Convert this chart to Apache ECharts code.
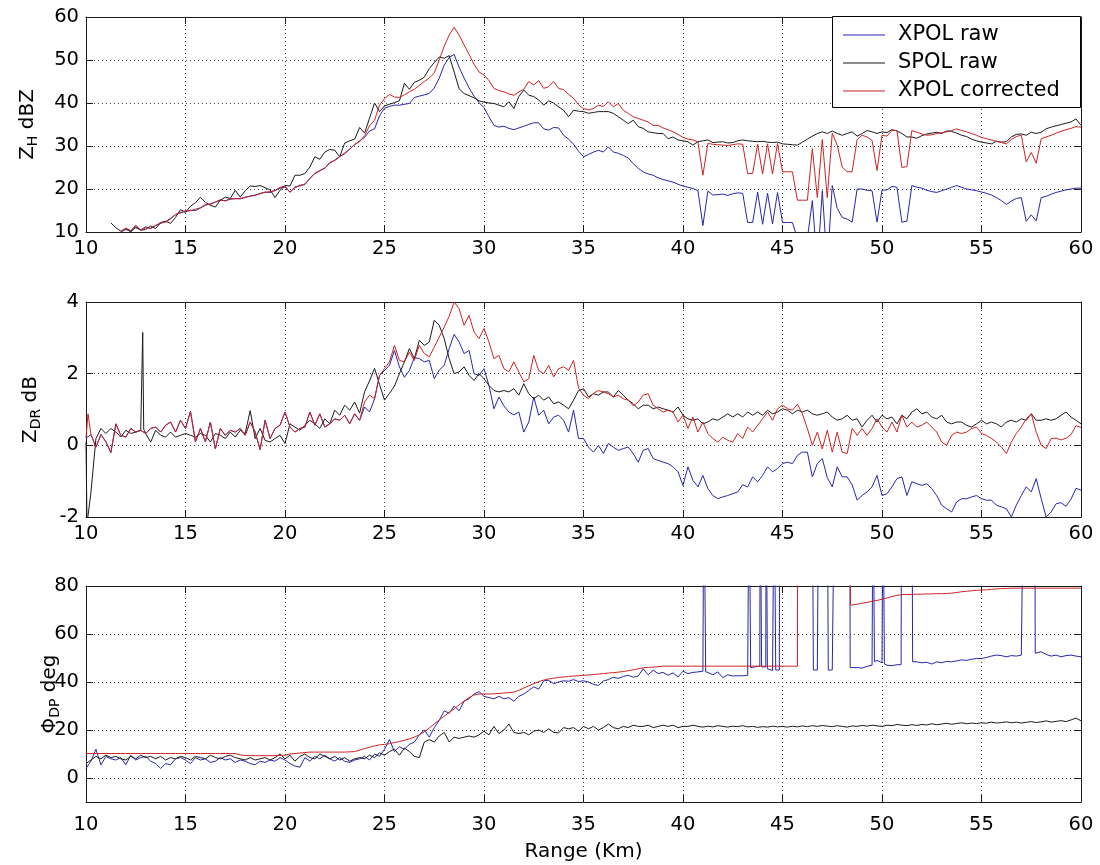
<!DOCTYPE html>
<html><head><meta charset="utf-8">
<script src="https://cdn.jsdelivr.net/npm/echarts@6/dist/echarts.min.js"></script>
<style>html,body{margin:0;padding:0;background:#fff}#c{width:1100px;height:865px}</style>
</head><body><div id="c"></div>
<script>
// ---------------- DATA ----------------
// Range gates: 10 km to 60 km every 0.25 km (201 gates)
const gates = [];
for (let i = 0; i <= 200; i++) gates.push(10 + i * 0.25);

const seriesNames = ['XPOL raw', 'SPOL raw', 'XPOL corrected'];
const xTicks = [10, 15, 20, 25, 30, 35, 40, 45, 50, 55, 60];

// ---- Z_H (dBZ) ----
const zhXpolRaw = [
  null,null,null,null,null,null,null,10.0,10.6,10.2,11.0,10.5,11.2,10.8,11.5,12.0,12.4,13.2,14.0,14.6,
  14.7,15.1,15.0,15.6,16.2,16.6,16.9,17.4,17.3,17.6,17.8,17.7,18.1,18.3,18.6,18.9,19.3,19.2,19.7,20.2,
  20.5,19.3,20.3,20.9,21.0,22.5,23.6,24.2,24.9,26.0,26.7,27.6,28.2,29.3,30.3,31.2,32.0,33.5,34.0,37.0,
  38.8,39.2,39.5,39.5,39.7,39.9,41.3,41.6,41.9,42.2,43.5,45.8,48.8,50.6,51.3,48.3,45.8,43.5,41.6,40.1,
  38.9,36.8,34.8,34.4,34.6,34.1,33.8,34.2,34.6,35.0,35.4,35.4,34.0,33.7,34.3,34.2,32.5,31.6,30.4,28.8,
  27.5,28.0,28.6,29.0,28.6,29.8,28.6,28.3,27.8,27.2,25.9,24.8,24.0,23.5,23.2,22.6,22.2,21.9,21.6,21.1,
  20.7,20.4,20.1,19.6,11.5,19.5,18.6,18.7,18.8,18.5,18.9,19.1,19.0,12.2,12.2,19.3,11.8,19.0,11.9,19.2,
  12.2,12.2,12.2,8.5,8.5,8.5,17.3,2,19.6,2,20.8,15.5,13.4,13.0,12.3,20.0,20.0,19.7,19.6,12.3,
  19.7,19.8,20.6,20.4,12.3,12.5,20.8,20.4,20.2,19.7,19.4,19.2,19.6,20.0,20.4,20.8,20.4,20.0,19.8,19.6,
  19.3,19.0,18.6,18.0,17.3,16.4,17.2,17.8,18.0,12.5,14.0,12.6,18.0,18.3,18.8,19.2,19.5,19.8,20.0,20.2,
  20.2
];
const zhSpol = [
  null,null,null,null,null,12.1,11.0,10.2,10.8,10.0,11.3,10.4,10.6,11.4,10.8,12.2,12.5,12.0,13.4,15.2,
  14.6,16.0,16.8,18.1,16.9,16.2,15.8,17.4,18.1,17.8,19.7,18.1,19.6,20.7,20.6,20.8,20.3,19.8,18.0,19.7,
  20.8,20.7,23.2,23.2,23.6,25.1,27.5,26.9,28.6,29.2,29.0,27.5,30.7,31.2,31.6,34.3,33.0,36.5,40.0,38.0,
  39.3,39.7,40.1,40.5,44.6,43.2,44.8,45.3,46.0,48.0,49.4,50.7,50.4,51.0,47.2,43.3,42.2,41.7,41.2,40.5,
  40.2,40.0,39.9,39.5,39.1,40.3,38.7,41.5,43.0,41.8,41.5,40.7,39.5,40.5,40.0,39.1,38.3,36.8,38.3,38.1,
  38.0,37.6,37.8,38.0,38.0,38.0,37.6,36.8,36.0,35.2,36.0,34.5,34.1,33.3,33.1,32.9,32.9,31.7,32.1,31.4,
  31.2,31.0,30.2,31.0,31.2,31.4,30.8,30.9,31.0,30.7,30.8,31.2,31.4,31.2,31.1,31.0,31.1,30.9,30.8,30.9,
  30.5,30.4,30.3,30.2,30.9,31.6,32.3,32.9,33.3,32.9,33.5,32.9,32.5,32.9,33.3,32.3,32.9,33.6,33.3,32.9,
  33.3,33.1,33.8,33.5,32.9,32.1,32.1,31.8,32.4,32.8,33.0,33.2,32.9,33.5,33.4,33.0,32.5,32.2,31.6,31.2,
  30.9,30.7,30.5,31.1,30.9,31.0,32.1,32.7,32.8,32.5,33.2,32.9,33.2,34.0,34.4,34.7,35.0,35.3,35.6,36.3,
  34.8
];
const zhXpolCorr = [
  null,null,null,null,null,null,null,10.0,10.9,10.3,11.6,10.4,11.0,10.9,11.5,12.2,12.3,13.0,14.1,14.4,
  15.0,14.9,15.3,15.6,16.4,16.4,17.0,17.5,17.2,17.8,17.7,17.8,18.0,18.4,18.5,19.0,19.2,19.4,19.6,20.4,
  20.7,19.2,20.5,20.7,21.2,22.4,23.7,24.3,24.8,26.2,26.6,27.5,28.4,29.2,30.4,31.0,32.4,34.7,36.0,39.5,
  41.0,42.0,41.4,41.3,41.9,42.6,43.2,44.1,45.0,45.8,47.0,50.0,53.2,55.8,57.6,55.8,53.5,51.3,49.0,47.2,
  46.5,45.2,43.4,42.9,42.6,42.1,41.8,42.6,43.2,45.0,44.2,45.2,43.4,43.8,45.0,43.4,43.1,42.0,41.1,39.6,
  38.7,38.4,38.7,39.5,39.2,40.3,39.1,39.9,38.3,37.6,36.8,36.4,36.0,35.6,34.8,34.8,34.2,33.8,33.3,32.7,
  32.0,31.6,31.4,31.0,23.2,30.6,30.4,30.3,30.2,30.1,30.3,30.5,30.4,23.6,23.6,30.4,23.5,30.5,23.5,30.6,
  24.0,24.0,24.0,17.4,17.4,17.4,29.4,18.0,31.5,18.0,33.0,30.2,25.1,24.0,24.0,31.5,32.5,32.1,31.3,24.3,
  32.5,32.3,33.6,33.6,25.0,25.2,33.6,33.2,32.8,32.5,32.6,32.9,33.1,33.3,33.6,34.0,33.6,33.3,32.9,32.5,
  32.0,31.7,31.4,31.1,30.8,30.5,31.5,32.2,32.5,26.3,28.5,26.0,31.7,32.1,32.5,33.0,33.4,33.8,34.1,34.5,
  34.4
];

// ---- Z_DR (dB) ----
const zdrXpolNear = [ // 10 .. 23.75 km, raw and corrected XPOL coincide here
  0.2,0.3,-0.05,0.3,0.1,-0.2,0.6,0.28,0.23,0.47,0.37,0.42,0.33,0.47,0.51,0.37,0.56,0.65,0.37,0.7,
  0.47,0.95,0.1,0.47,0.1,0.65,-0.1,0.47,0.28,0.42,0.37,0.47,0.28,0.65,0.37,-0.12,0.7,0.19,0.47,0.56,
  0.93,0.51,0.37,0.47,0.51,0.93,0.56,0.88,0.51,0.6,0.74,0.7,0.84,0.6,0.88,0.7
];
const zdrXpolRawFar = [ // 24 .. 60 km
  1.07,0.93,1.3,1.95,
  2.09,2.23,2.65,2.19,1.9,2.09,2.45,2.42,2.33,2.37,1.86,2.1,2.23,2.7,3.1,2.88,2.56,2.65,2.0,1.95,
  2.14,1.67,1.02,1.35,1.1,0.93,0.85,0.93,0.37,0.65,1.35,0.84,0.98,0.6,0.79,0.84,0.7,0.37,0.98,0.19,
  0.19,-0.05,-0.19,0.0,-0.23,0.05,-0.05,-0.14,-0.09,-0.05,-0.23,-0.47,-0.14,-0.09,-0.37,-0.42,-0.47,-0.51,-0.6,-0.74,
  -1.12,-0.6,-0.98,-1.16,-0.84,-1.21,-1.4,-1.49,-1.44,-1.4,-1.35,-1.3,-1.1,-1.16,-0.88,-1.02,-0.84,-0.6,-0.74,-0.65,
  -0.51,-0.47,-0.51,-0.28,-0.19,-0.19,-0.88,-0.51,-0.37,-0.9,-1.16,-0.6,-0.88,-0.88,-1.1,-1.53,-1.4,-1.3,-1.16,-0.84,
  -1.4,-1.35,-1.16,-0.93,-0.88,-1.4,-1.02,-1.07,-1.12,-1.07,-1.21,-1.4,-1.67,-1.77,-1.86,-1.58,-1.49,-1.49,-1.44,-1.4,
  -1.49,-1.53,-1.53,-1.67,-1.72,-1.77,-2.0,-1.67,-1.4,-1.16,-1.3,-0.93,-1.49,-2.0,-1.86,-1.63,-1.6,-1.7,-1.5,-1.2,
  -1.25
];
const zdrXpolCorrFar = [ // 24 .. 60 km
  1.21,1.4,1.3,1.95,
  2.14,2.33,2.79,2.37,2.33,2.6,2.37,2.79,2.56,2.47,2.74,3.02,3.3,3.6,4.0,3.81,3.35,3.63,3.16,2.98,
  3.26,2.88,2.42,2.51,2.14,2.05,2.33,2.05,1.77,1.86,2.51,2.09,2.0,2.23,1.91,2.14,2.19,2.09,2.37,1.6,
  1.4,1.3,1.45,1.53,1.49,1.44,1.35,1.4,1.3,1.26,1.1,1.21,1.4,1.44,1.12,1.02,0.93,0.98,0.93,0.65,
  0.84,0.47,0.79,0.37,0.65,0.33,0.19,0.09,0.23,0.14,0.09,0.33,0.19,0.51,0.37,0.56,0.74,0.93,0.7,1.02,
  1.12,1.02,0.98,1.15,0.88,0.47,0.0,0.37,-0.1,0.42,-0.19,0.37,-0.19,-0.23,0.47,0.28,0.47,0.28,0.47,0.74,
  0.51,0.37,0.65,0.37,0.84,0.51,0.65,0.51,0.56,0.65,0.51,0.37,0.09,0.0,0.28,0.37,0.33,0.37,0.47,0.51,
  0.33,0.28,0.19,0.09,-0.05,-0.23,0.09,0.33,0.51,0.74,0.88,0.37,0.0,-0.09,0.19,0.2,0.15,0.2,0.3,0.55,
  0.5
];
const zdrSpol = [
  0.1,-1.3,0.19,0.47,0.33,0.47,0.37,0.23,0.42,0.33,0.37,0.42,0.33,0.09,0.42,0.28,0.23,0.37,0.23,0.28,
  0.33,0.28,0.23,0.33,0.28,0.09,0.33,0.28,0.19,0.37,0.23,0.42,0.33,0.97,0.19,0.47,0.14,0.09,0.19,0.28,
  0.05,0.6,0.51,0.42,0.56,0.7,0.6,0.47,0.74,0.6,0.98,0.84,1.12,0.98,1.21,0.9,1.5,1.8,2.15,1.7,
  1.26,1.45,1.65,2.0,2.33,2.7,2.42,2.93,2.79,2.88,3.49,3.35,2.98,2.42,2.0,2.05,2.19,1.95,1.81,2.0,
  1.86,1.67,1.53,1.49,1.53,1.49,1.58,1.4,1.72,1.44,1.3,1.4,1.26,1.35,1.16,1.21,1.12,1.02,1.26,1.53,
  1.58,1.35,1.44,1.4,1.49,1.49,1.35,1.53,1.4,1.26,1.16,1.02,1.12,1.12,1.02,1.07,1.02,0.98,0.93,1.07,
  0.84,0.74,0.7,0.74,0.6,0.65,0.74,0.7,0.79,0.88,0.79,0.88,0.79,0.93,0.84,0.93,0.84,0.98,0.88,0.93,
  1.02,0.98,0.88,0.98,0.93,0.98,0.88,0.84,0.88,0.93,0.79,0.7,0.74,0.84,0.7,0.74,0.51,0.7,0.84,0.65,
  0.84,0.74,0.79,0.6,0.84,0.74,0.93,1.02,0.88,0.93,0.79,0.74,0.84,0.65,0.6,0.65,0.65,0.56,0.51,0.6,
  0.7,0.6,0.65,0.6,0.51,0.65,0.7,0.65,0.74,0.7,0.88,0.7,0.7,0.74,0.7,0.74,0.84,0.93,0.79,0.7,
  0.6
];
// narrow features between gates: [range km, value]
const zdrSpolSpikes = [[10.05,-2.2],[10.15,-2.2],[12.8,0.42],[12.85,3.15],[12.9,0.45]];
const zdrCorrSpikes = [[10.1,0.88]];

// ---- PHI_DP (deg) ----  (values above 80 are off the top of the axes)
const phiXpolRaw = [
  4,7,12,5.5,9,8,7.5,8.5,5.5,9.5,7.5,8.5,9,7,6,4,6,5.5,8,8.5,
  7.5,6,8.5,7.5,8,6.5,7,8.5,7.5,8,6.5,7.5,7,6,5.5,7,6.5,7.5,7,8.5,
  7.5,6,5,4.5,8.5,7,9,8,9.5,8,7,8.5,7,6.5,7.5,8,9,7.5,10,9,
  12,16,11,13,12,14,15,18,20,17,21,24,28,27,30,28,32,33,35,36,
  34,33.5,33,34,33,33.5,32,34,35,36.5,38,37,40.5,40.7,39.3,40.0,40.5,40.3,41.0,40.2,
  40.5,40.0,39.0,38.6,40.4,41.0,42.0,41.5,42.3,42.8,42.0,42.5,45.5,43.0,44.9,43.5,44.0,42.8,43.8,42.1,
  44.5,43.5,44.0,44.2,44.5,44.0,43.0,44.2,41.8,43.0,42.5,42.6,42.6,42.8,46.0,46.5,46.3,45.5,44.8,45.0,
  130,130,130,130,130,130,130,45,130,130,45,130,130,130,46.3,46.0,45.8,46.5,47.0,49.0,
  48.0,47.0,46.8,47.2,130,130,130,48.4,48.0,48.2,47.5,48.4,48.0,48.6,48.4,48.8,49.2,49.0,49.5,49.8,
  49.8,50.2,50.8,51.2,51.0,50.5,51.0,50.8,51.2,130,130,52.0,52.6,51.5,50.8,51.2,50.5,51.0,51.2,50.8,
  50.5
];
const phiRawSpikes = [
  [41.03,44.4],[41.05,130],[41.12,130],[41.14,44.2],
  [43.3,42.8],[43.32,130],[43.38,130],[43.4,46.0],
  [43.86,46.5],[43.88,130],[43.93,130],[43.95,46.3],
  [44.16,46.3],[44.18,130],[44.22,130],[44.24,45.5],
  [44.56,44.8],[44.58,130],[44.64,130],[44.66,45.0],
  [44.84,45.0],[44.86,130],
  [46.53,130],[46.55,45],[46.8,45],[46.82,130],
  [47.28,130],[47.3,45],[47.6,45],[47.62,130],
  [48.38,130],[48.4,46.0],
  [49.53,47.0],[49.55,130],[49.6,130],[49.62,48.5],
  [50.03,48.0],[50.05,130],[50.1,130],[50.12,47.5],
  [50.96,47.2],[50.98,130],[51.52,130],[51.54,48.4],
  [57.1,51.2],[57.12,130],[57.68,130],[57.7,52.0]
];
const phiSpol = [
  6,7.5,9,8,9.5,8.5,9,8,7.5,9,8,9.5,8.5,9,8,9,7.5,8.5,8,9,
  8.5,7.5,9,8.5,8,9.5,8.5,8,9,9.5,8.5,8,7.5,8.5,7.5,8,8.5,7.5,8.5,10,
  8,9.5,7,9,10,8.5,8,10,9,8,9,7.5,8.5,7,8,8.5,8,9.5,8.5,10.5,
  9.5,11,12,9.5,12.5,11,9,8.5,15,16,15,17.5,19,15,17,16.5,17,17.5,17,18,
  19.5,18,21.5,18.5,20,22.5,19,18.5,19,18,19.5,20,19,20.5,19,18.8,21,20.5,21,19.5,
  21.5,20.5,21.5,20,21,22.5,21,20.5,21.5,21,22,21.5,21.5,22,21,21.5,22,21.5,22,21,
  21.5,21.5,22,21.5,21.2,21.6,21.3,21.8,21.5,21.2,21.6,21.4,21.8,21.3,21.5,21.1,21.4,21.2,21.6,21.3,
  21.5,21.2,21.6,21.3,21.7,21.4,21.8,21.5,21.9,21.6,21.4,21.8,21.5,21.2,21.7,21.5,21.9,21.6,22.0,21.7,
  21.5,22.0,21.8,22.3,22.0,21.8,22.2,21.9,22.3,22.1,22.6,22.2,22.5,22.8,22.4,22.7,23.0,22.6,22.9,22.7,
  23.0,22.8,23.3,22.9,23.1,23.4,23.0,23.3,22.9,23.2,23.5,23.1,23.4,23.8,23.3,23.6,23.9,23.5,24.2,25.0,
  23.8
];
const phiXpolCorr = [
  10.2,10.2,10.2,10.2,10.2,10.2,10.2,10.2,10.2,10.2,10.2,10.2,10.2,10.2,10.2,10.2,10.2,10.2,10.2,10.2,
  10.2,10.2,10.2,10.2,10.2,10.2,10.2,10.2,10.2,10.2,10.2,9.6,9.4,9.3,9.3,9.3,9.3,9.3,9.3,9.4,
  9.5,10.0,10.2,10.4,10.6,10.8,10.8,10.8,10.8,10.8,10.8,10.8,10.8,10.9,11.0,11.6,12.3,12.8,13.4,13.8,
  14.0,14.3,14.8,15.2,15.7,16.3,17.0,18.0,19.3,20.8,22.5,24.2,25.8,27.3,28.8,30.5,32.0,33.5,34.6,35.0,
  35.0,35.0,35.1,35.2,35.4,35.6,35.8,36.5,37.5,38.4,39.3,40.2,40.8,41.3,41.6,41.9,42.1,42.3,42.5,42.6,
  42.8,42.9,43.1,43.3,43.5,43.7,43.9,44.1,44.4,44.7,45.1,45.5,45.9,46.1,46.2,46.4,46.6,46.6,46.6,46.6,
  46.6,46.6,46.6,46.6,46.6,46.6,46.6,46.6,46.6,46.6,46.6,46.6,46.6,46.6,46.6,46.6,46.6,46.6,46.6,46.6,
  46.6,46.6,46.6,46.6,130,130,130,130,130,130,130,130,130,130,72.1,72.4,72.8,73.2,73.6,74.0,
  74.5,75.0,75.6,76.1,76.4,76.5,76.5,76.6,76.6,76.7,76.7,76.8,76.8,76.9,77.0,77.3,77.6,77.8,78.0,78.2,
  78.3,78.4,78.6,78.8,78.9,79.0,79.1,79.1,79.1,79.1,79.1,79.1,79.1,79.1,79.1,79.1,79.1,79.1,79.1,79.1,
  79.1
];
const phiCorrSteps = [[45.77,130],[48.4,130],[48.42,72.0]];

// ---------------- BUILD ----------------
function pts(vals, extra) {
  const out = [];
  vals.forEach((v, i) => { if (v !== null) out.push([gates[i], v]); });
  (extra || []).forEach(p => out.push(p));
  out.sort((a, b) => a[0] - b[0]);
  return out;
}
const zdrXpolRaw = zdrXpolNear.concat(zdrXpolRawFar);
const zdrXpolCorr = zdrXpolNear.concat(zdrXpolCorrFar);

const FONT = 'DejaVu Sans';
const AX = '#1a1a1a';
const COL = { raw: '#2626b0', spol: '#1a1a1a', corr: '#cf2222' };
const TICK_FS = 19.5;

const grids = [
  { left: 86, right: 19, top: 17, height: 215 },
  { left: 86, right: 19, top: 302, height: 215 },
  { left: 86, right: 19, top: 586, height: 216 }
];
grids.forEach(g => { g.containLabel = false; g.outerBoundsMode = 'none'; });

const xLabelMargin = [7, 7, 13];
const xAxes = [];
for (let i = 0; i < 3; i++) {
  xAxes.push({
    type: 'value', gridIndex: i, position: 'bottom', min: xTicks[0], max: xTicks[xTicks.length - 1], interval: 5,
    axisLine: { show: true, onZero: false, lineStyle: { color: AX, width: 1 } },
    axisTick: { show: true, inside: true, length: 7, lineStyle: { color: AX } },
    axisLabel: { show: true, margin: xLabelMargin[i], color: '#000', fontSize: TICK_FS, fontFamily: FONT, showMinLabel: true, showMaxLabel: true },
    splitLine: { show: true, lineStyle: { color: '#444', type: [1, 3], width: 1 } },
    name: i === 2 ? 'Range (Km)' : '', nameLocation: 'middle', nameGap: 40, nameMoveOverlap: false,
    nameTextStyle: { color: '#000', fontSize: 20, fontFamily: FONT }
  });
}
for (let i = 0; i < 3; i++) {
  xAxes.push({
    type: 'value', gridIndex: i, position: 'top', min: 10, max: 60, interval: 5,
    axisLine: { show: true, onZero: false, lineStyle: { color: AX, width: 1 } },
    axisTick: { show: true, inside: true, length: 7, lineStyle: { color: AX } },
    axisLabel: { show: false }, splitLine: { show: false }
  });
}

const richName = {
  n: { fontSize: 20, fontFamily: FONT, color: '#000' },
  s: { fontSize: 14, fontFamily: FONT, color: '#000', padding: [11, 0, 0, 0] }
};
const yCfg = [
  { min: 10, max: 60, interval: 10, name: '{n|Z}{s|H}{n| dBZ}', gap: 46 },
  { min: -2, max: 4, interval: 2, name: '{n|Z}{s|DR}{n| dB}', gap: 43 },
  { min: -10, max: 80, interval: null, name: '{n|Φ}{s|DP}{n| deg}', gap: 24 }
];
const yAxes = [];
yCfg.forEach((c, i) => {
  const ax = {
    type: 'value', gridIndex: i, position: 'left', min: c.min, max: c.max,
    axisLine: { show: true, onZero: false, lineStyle: { color: AX, width: 1 } },
    axisTick: { show: true, inside: true, length: 7, lineStyle: { color: AX } },
    axisLabel: { show: true, margin: 7, color: '#000', fontSize: TICK_FS, fontFamily: FONT, showMinLabel: c.interval !== null, showMaxLabel: true },
    splitLine: { show: true, lineStyle: { color: '#444', type: [1, 3], width: 1 } },
    name: c.name, nameLocation: 'middle', nameRotate: 90, nameGap: c.gap, nameMoveOverlap: false,
    nameTextStyle: { color: '#000', fontFamily: FONT, fontSize: 20, rich: richName }
  };
  if (c.interval !== null) ax.interval = c.interval; else ax.splitNumber = 5;
  yAxes.push(ax);
});
yCfg.forEach((c, i) => {
  const ax = {
    type: 'value', gridIndex: i, position: 'right', min: c.min, max: c.max,
    axisLine: { show: true, onZero: false, lineStyle: { color: AX, width: 1 } },
    axisTick: { show: true, inside: true, length: 7, lineStyle: { color: AX } },
    axisLabel: { show: false }, splitLine: { show: false }
  };
  if (c.interval !== null) ax.interval = c.interval; else ax.splitNumber = 5;
  yAxes.push(ax);
});

function line(name, color, data, gi) {
  return {
    name, type: 'line', xAxisIndex: gi, yAxisIndex: gi, data,
    symbol: 'none', showSymbol: false, clip: true, z: 2,
    lineStyle: { color, width: 1 }, itemStyle: { color }, emphasis: { disabled: true }
  };
}
const series = [
  line(seriesNames[0], COL.raw, pts(zhXpolRaw), 0),
  line(seriesNames[1], COL.spol, pts(zhSpol), 0),
  line(seriesNames[2], COL.corr, pts(zhXpolCorr), 0),
  line(seriesNames[0], COL.raw, pts(zdrXpolRaw), 1),
  line(seriesNames[1], COL.spol, pts(zdrSpol, zdrSpolSpikes), 1),
  line(seriesNames[2], COL.corr, pts(zdrXpolCorr, zdrCorrSpikes), 1),
  line(seriesNames[0], COL.raw, pts(phiXpolRaw, phiRawSpikes), 2),
  line(seriesNames[1], COL.spol, pts(phiSpol), 2),
  line(seriesNames[2], COL.corr, pts(phiXpolCorr, phiCorrSteps), 2)
];

const option = {
  animation: false,
  backgroundColor: '#fff',
  grid: grids,
  xAxis: xAxes,
  yAxis: yAxes,
  series,
  legend: {
    data: seriesNames.map(n => ({ name: n, icon: 'rect' })),
    orient: 'vertical', left: 843, top: 21,
    itemWidth: 42, itemHeight: 1.2, itemGap: 0, padding: 0,
    selectedMode: false, z: 6,
    textStyle: { fontFamily: FONT, fontSize: 21, color: '#000', lineHeight: 28, padding: [0, 0, 0, 8] }
  },
  graphic: [{
    type: 'rect', z: 5, silent: true,
    shape: { x: 832.5, y: 16.5, width: 248, height: 91 },
    style: { fill: '#fff', stroke: '#000', lineWidth: 1 }
  }]
};
const chart = echarts.init(document.getElementById('c'), null, { renderer: 'canvas' });
chart.setOption(option);
</script></body></html>
